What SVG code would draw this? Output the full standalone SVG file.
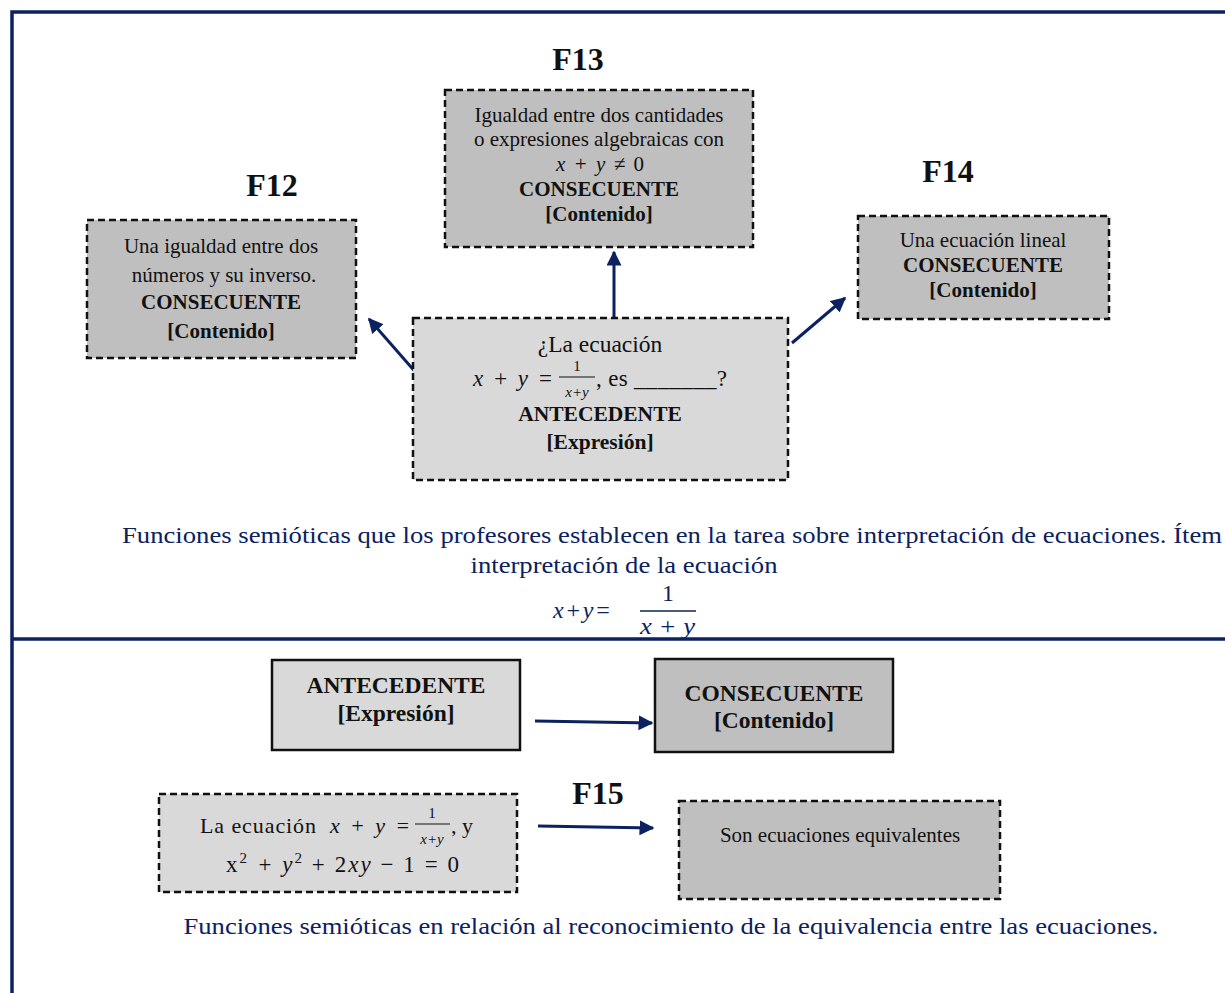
<svg xmlns="http://www.w3.org/2000/svg" width="1225" height="993" viewBox="0 0 1225 993">
  <style>
    .frame { stroke: #0b2160; stroke-width: 3.5; fill: none; }
    .dash { stroke: #111; stroke-width: 2.5; stroke-dasharray: 7 4; }
    .solid { stroke: #111; stroke-width: 2.5; }
    .light { fill: #d9d9d9; }
    .dark { fill: #bfbfbf; }
    .t { font-family: "Liberation Serif", "Times New Roman", serif; fill: #111; text-anchor: middle; }
    .s { font-family: "Liberation Serif", "Times New Roman", serif; fill: #111; text-anchor: start; }
    .b { font-weight: bold; }
    .m { font-family: "Liberation Serif", "Times New Roman", serif; font-style: italic; fill: #111; }
    .up { font-style: normal; }
    .lbl { font-family: "Liberation Serif", "Times New Roman", serif; font-weight: bold; font-size: 32px; fill: #111; text-anchor: middle; }
    .cap { font-family: "Liberation Serif", "Times New Roman", serif; font-size: 24px; fill: #0b2160; text-anchor: middle; }
    .capm { font-family: "Liberation Serif", "Times New Roman", serif; font-style: italic; font-size: 24px; fill: #0b2160; }
    .conn { stroke: #0b2160; stroke-width: 3; fill: none; marker-end: url(#head); }
  </style>
  <defs>
    <marker id="head" viewBox="0 0 10 10" refX="9" refY="5" markerWidth="5" markerHeight="5" orient="auto" markerUnits="strokeWidth">
      <path d="M0,0 L10,5 L0,10 z" fill="#0b2160"/>
    </marker>
  </defs>

  <rect width="1225" height="993" fill="#ffffff"/>

  <!-- outer frame and section divider -->
  <g id="frame">
    <path class="frame" d="M12,993 V12 H1225"/>
    <line class="frame" x1="12" y1="639" x2="1225" y2="639"/>
  </g>

  <!-- labels -->
  <g id="labels">
    <text class="lbl" x="578" y="70">F13</text>
    <text class="lbl" x="272" y="196">F12</text>
    <text class="lbl" x="948" y="182">F14</text>
    <text class="lbl" x="598" y="804">F15</text>
  </g>

  <!-- connectors -->
  <g id="connectors">
    <line class="conn" x1="614" y1="318" x2="614" y2="252"/>
    <line class="conn" x1="418" y1="375" x2="369" y2="319"/>
    <line class="conn" x1="792" y1="343" x2="845" y2="298"/>
    <line class="conn" x1="535" y1="721" x2="652" y2="723"/>
    <line class="conn" x1="538" y1="826" x2="653" y2="828"/>
  </g>

  <!-- F13 -->
  <g id="f13">
    <rect class="dash dark" x="445" y="90" width="308" height="157"/>
    <text class="t" font-size="21" x="599" y="122">Igualdad entre dos cantidades</text>
    <text class="t" font-size="21" x="599" y="146">o expresiones algebraicas con</text>
    <text class="m" font-size="21" x="600" y="171" text-anchor="middle" textLength="88" lengthAdjust="spacing">x + y ≠ <tspan class="up">0</tspan></text>
    <text class="t b" font-size="21" x="599" y="196">CONSECUENTE</text>
    <text class="t b" font-size="21" x="599" y="221">[Contenido]</text>
  </g>

  <!-- F12 -->
  <g id="f12">
    <rect class="dash dark" x="87" y="220" width="269" height="138"/>
    <text class="t" font-size="21" x="221" y="253">Una igualdad entre dos</text>
    <text class="t" font-size="21" x="224" y="282">números y su inverso.</text>
    <text class="t b" font-size="21" x="221" y="309">CONSECUENTE</text>
    <text class="t b" font-size="21" x="221" y="338">[Contenido]</text>
  </g>

  <!-- F14 -->
  <g id="f14">
    <rect class="dash dark" x="858" y="216" width="251" height="103"/>
    <text class="t" font-size="21" x="983" y="247">Una ecuación lineal</text>
    <text class="t b" font-size="21" x="983" y="272">CONSECUENTE</text>
    <text class="t b" font-size="21" x="983" y="297">[Contenido]</text>
  </g>

  <!-- central antecedent -->
  <g id="antecedente-central">
    <rect class="dash light" x="413" y="318" width="375" height="162"/>
    <text class="t" font-size="23.5" x="600" y="352">¿La ecuación</text>
    <text class="m" font-size="23" x="473" y="386" textLength="80" lengthAdjust="spacing">x + y =</text>
    <text class="t" font-size="15" x="577" y="371">1</text>
    <line x1="559" y1="377" x2="595" y2="377" stroke="#111" stroke-width="1.2"/>
    <text class="m" font-size="15" x="577" y="397" text-anchor="middle">x+y</text>
    <text class="s" font-size="23" x="596" y="386" textLength="131" lengthAdjust="spacing">, es _______?</text>
    <text class="t b" font-size="21.5" x="600" y="421">ANTECEDENTE</text>
    <text class="t b" font-size="21.5" x="600" y="449">[Expresión]</text>
  </g>

  <!-- caption of the upper section -->
  <g id="caption-1">
    <text class="cap" x="672" y="543" textLength="1100" lengthAdjust="spacingAndGlyphs">Funciones semióticas que los profesores establecen en la tarea sobre interpretación de ecuaciones. Ítem</text>
    <text class="cap" x="624" y="573" textLength="307" lengthAdjust="spacingAndGlyphs">interpretación de la ecuación</text>
    <text class="capm" x="553" y="618" textLength="58" lengthAdjust="spacing">x + y =</text>
    <text class="cap" x="668" y="601">1</text>
    <line x1="640" y1="611" x2="696" y2="611" stroke="#0b2160" stroke-width="1.5"/>
    <text class="capm" x="640" y="634" textLength="55" lengthAdjust="spacingAndGlyphs">x + y</text>
  </g>

  <!-- generic antecedent / consequent -->
  <g id="antecedente">
    <rect class="solid light" x="272" y="660" width="248" height="90"/>
    <text class="t b" font-size="23.5" x="396" y="693">ANTECEDENTE</text>
    <text class="t b" font-size="23.5" x="396" y="721">[Expresión]</text>
  </g>
  <g id="consecuente">
    <rect class="solid dark" x="655" y="659" width="238" height="93"/>
    <text class="t b" font-size="23.5" x="774" y="701">CONSECUENTE</text>
    <text class="t b" font-size="23.5" x="774" y="728">[Contenido]</text>
  </g>

  <!-- F15 antecedent -->
  <g id="f15-antecedente">
    <rect class="dash light" x="159" y="794" width="358" height="98"/>
    <text class="s" font-size="22" x="200" y="833" textLength="116" lengthAdjust="spacing">La ecuación</text>
    <text class="m" font-size="22" x="330" y="833" textLength="80" lengthAdjust="spacing">x + y =</text>
    <text class="t" font-size="15" x="432" y="818">1</text>
    <line x1="415" y1="824" x2="450" y2="824" stroke="#111" stroke-width="1.2"/>
    <text class="m" font-size="15" x="432" y="844" text-anchor="middle">x+y</text>
    <text class="s" font-size="22" x="451" y="833">, y</text>
    <text class="m" font-size="23" x="226" y="872" textLength="233" lengthAdjust="spacing"><tspan class="up">x</tspan><tspan class="up" font-size="15" dy="-9">2</tspan><tspan dy="9"> + </tspan><tspan>y</tspan><tspan class="up" font-size="15" dy="-9">2</tspan><tspan class="up" dy="9"> + 2</tspan><tspan>xy</tspan><tspan class="up"> − 1 = 0</tspan></text>
  </g>

  <!-- F15 consequent -->
  <g id="f15-consecuente">
    <rect class="dash dark" x="679" y="801" width="321" height="98"/>
    <text class="t" font-size="21" x="840" y="842">Son ecuaciones equivalentes</text>
  </g>

  <!-- caption of the lower section -->
  <g id="caption-2">
    <text class="cap" x="671" y="934" textLength="975" lengthAdjust="spacingAndGlyphs">Funciones semióticas en relación al reconocimiento de la equivalencia entre las ecuaciones.</text>
  </g>
</svg>
